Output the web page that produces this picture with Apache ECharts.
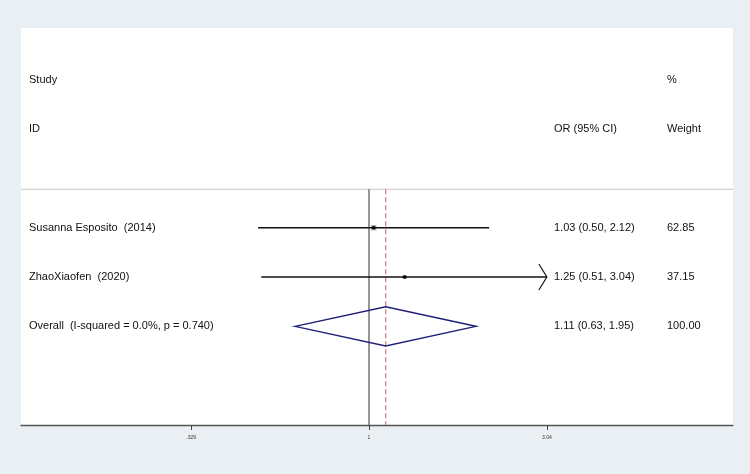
<!DOCTYPE html>
<html>
<head>
<meta charset="utf-8">
<script src="https://cdn.jsdelivr.net/npm/echarts@6/dist/echarts.min.js"></script>
<style>
html,body{margin:0;padding:0;background:#e9eff2;}
#main{width:750px;height:474px;}
</style>
</head>
<body>
<div id="main"></div>
<script>
// ---- data ----
var studies = ['Susanna Esposito  (2014)', 'ZhaoXiaofen  (2020)'];
var estimates = [1.03, 1.25];
var lowerCI = [0.50, 0.51];
var upperCI = [2.12, 3.04];
var weights = [62.85, 37.15];
var overallLabel = 'Overall  (I-squared = 0.0%, p = 0.740)';
var overallEst = 1.11;
var overallLo = 0.63;
var overallHi = 1.95;
var overallWeight = 100.00;
var tickValues = [0.329, 1, 3.04];
var tickLabels = ['.329', '1', '3.04'];
var headerStudy = ['Study', 'ID'];
var headerOR = 'OR (95% CI)';
var headerWeight = ['%', 'Weight'];

// ---- layout ----
var xMin = 0.1136, xMax = 9.73;   // visible range of the log axis
var rowTop = -0.05, rowStudyHdr = 1, rowIdHdr = 2, rowSep = 3.22, rowFirst = 4, rowBottom = 8;
var colStudyX = 29, colORX = 554, colWX = 667;
var FONT = 'Liberation Sans, Arial, sans-serif';

var chart = echarts.init(document.getElementById('main'));

var rows = studies.map(function (s, i) {
  return [estimates[i], rowFirst + i, lowerCI[i], upperCI[i], weights[i], i];
});

function fmt(v) { return v.toFixed(2); }

var textData = (function () {
  var d = [];
  d.push([rowStudyHdr, headerStudy[0], '', headerWeight[0]]);
  d.push([rowIdHdr, headerStudy[1], headerOR, headerWeight[1]]);
  studies.forEach(function (s, i) {
    d.push([rowFirst + i, s, fmt(estimates[i]) + ' (' + fmt(lowerCI[i]) + ', ' + fmt(upperCI[i]) + ')', fmt(weights[i])]);
  });
  d.push([rowFirst + studies.length, overallLabel, fmt(overallEst) + ' (' + fmt(overallLo) + ', ' + fmt(overallHi) + ')', fmt(overallWeight)]);
  return d;
})();

var option = {
  animation: false,
  backgroundColor: '#e9eff2',
  grid: { left: 21, right: 17, top: 28, bottom: 49, show: true, backgroundColor: '#ffffff', borderWidth: 0 },
  xAxis: {
    type: 'log', logBase: Math.E, min: xMin, max: xMax, position: 'bottom',
    axisLine: { show: true, onZero: false, lineStyle: { color: '#555', width: 1.3 } },
    axisTick: { show: true, length: 5, customValues: tickValues, lineStyle: { color: '#444', width: 1 } },
    axisLabel: { show: true, customValues: tickValues, fontSize: 5, color: '#333', margin: 10, fontFamily: FONT,
      formatter: function (v) {
        for (var i = 0; i < tickValues.length; i++) if (Math.abs(tickValues[i] - v) < 1e-6) return tickLabels[i];
        return '';
      } },
    splitLine: { show: false }
  },
  yAxis: { type: 'value', min: rowTop, max: rowBottom, inverse: true, show: false },
  series: [
    {
      type: 'custom',
      data: [[overallEst]],
      renderItem: function (params, api) {
        var pLeft = api.coord([xMin, rowSep]);
        var pRight = api.coord([xMax, rowSep]);
        var n1 = api.coord([1, rowSep]);
        var n2 = api.coord([1, rowBottom]);
        var d1 = api.coord([api.value(0), rowSep]);
        var d2 = api.coord([api.value(0), rowBottom]);
        return { type: 'group', children: [
          { type: 'line', shape: { x1: pLeft[0], y1: pLeft[1], x2: pRight[0], y2: pRight[1] }, style: { stroke: '#c4c4c4', lineWidth: 1.2 } },
          { type: 'line', shape: { x1: n1[0], y1: n1[1], x2: n2[0], y2: n2[1] }, style: { stroke: '#6a6a6a', lineWidth: 1.4 } },
          { type: 'line', shape: { x1: d1[0], y1: d1[1], x2: d2[0], y2: d2[1] }, style: { stroke: '#cc8484', lineWidth: 1.3, lineDash: [5, 3] } }
        ] };
      },
      z: 1
    },
    {
      type: 'custom',
      data: rows,
      renderItem: function (params, api) {
        var est = api.value(0), row = api.value(1), lo = api.value(2), hi = api.value(3), w = api.value(4);
        var axisMax = tickValues[tickValues.length - 1];
        var arrow = hi >= axisMax;
        var hiDraw = Math.min(hi, axisMax);
        var pLo = api.coord([lo, row]);
        var pHi = api.coord([hiDraw, row]);
        var pE = api.coord([est, row]);
        var box = Math.sqrt(w / 100) * 6.5;
        var ch = [
          { type: 'rect', shape: { x: pE[0] - box / 2, y: pE[1] - box / 2, width: box, height: box }, style: { fill: '#a0a0a0' } },
          { type: 'line', shape: { x1: pLo[0], y1: pLo[1], x2: pHi[0], y2: pHi[1] }, style: { stroke: '#111', lineWidth: 1.5 } },
          { type: 'circle', shape: { cx: pE[0], cy: pE[1], r: 1.8 }, style: { fill: '#000' } }
        ];
        if (arrow) {
          ch.push({ type: 'polyline', shape: { points: [[pHi[0] - 8, pHi[1] - 13], [pHi[0], pHi[1]], [pHi[0] - 8, pHi[1] + 13]] }, style: { stroke: '#111', lineWidth: 1.2, fill: null } });
        }
        return { type: 'group', children: ch };
      },
      z: 3
    },
    {
      type: 'custom',
      data: [[overallEst, rowFirst + studies.length, overallLo, overallHi]],
      renderItem: function (params, api) {
        var est = api.value(0), row = api.value(1);
        var pL = api.coord([api.value(2), row]);
        var pR = api.coord([api.value(3), row]);
        var pE = api.coord([est, row]);
        var h = 19.5;
        return { type: 'polygon', shape: { points: [[pL[0], pL[1]], [pE[0], pE[1] - h], [pR[0], pR[1]], [pE[0], pE[1] + h]] },
          style: { stroke: '#1f1f7a', lineWidth: 1.5, fill: null } };
      },
      z: 3
    },
    {
      type: 'custom',
      data: textData.map(function (r) { return [r[0]]; }),
      renderItem: function (params, api) {
        var row = api.value(0);
        var y = api.coord([1, row])[1];
        var item = textData[params.dataIndex];
        var st = function (t, x) {
          return { type: 'text', x: x, y: y, style: { text: t, fill: '#111', font: '11px ' + FONT, verticalAlign: 'middle', align: 'left' } };
        };
        return { type: 'group', children: [st(item[1], colStudyX), st(item[2], colORX), st(item[3], colWX)] };
      },
      z: 4
    }
  ]
};
chart.setOption(option);
</script>
</body>
</html>
